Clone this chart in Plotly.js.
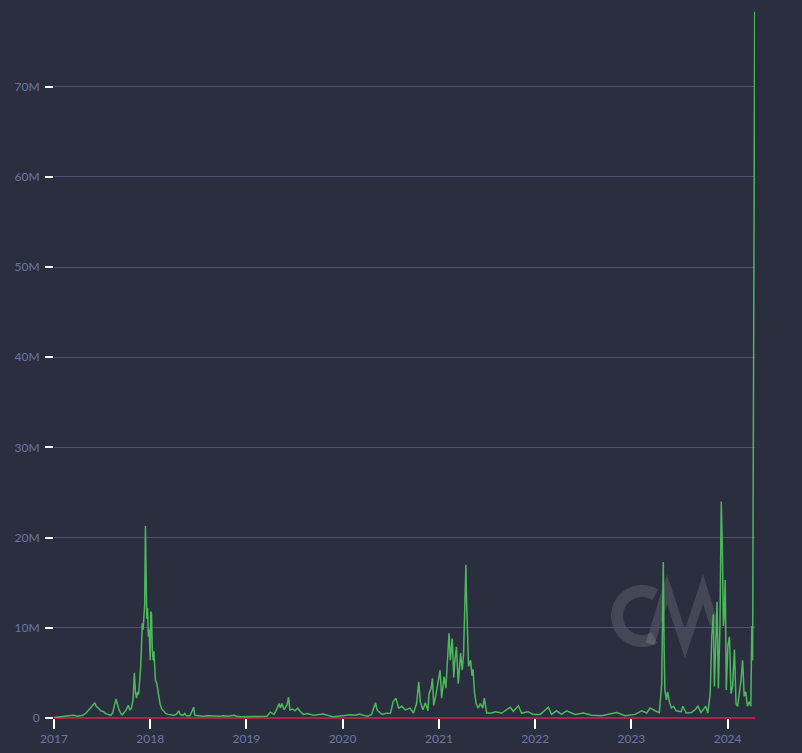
<!DOCTYPE html>
<html>
<head>
<meta charset="utf-8">
<script src="https://cdn.plot.ly/plotly-3.0.1.min.js"></script>
<style>
html,body{margin:0;padding:0;background:#2b2e3f;}
#chart{width:802px;height:753px;}
</style>
</head>
<body>
<div id="chart"></div>
<script>
const dates = [
"2017-01-01","2017-01-20","2017-02-10","2017-03-01","2017-03-15","2017-04-01","2017-04-20","2017-05-01","2017-05-15","2017-05-25",
"2017-06-05","2017-06-10","2017-06-18","2017-06-28","2017-07-08","2017-07-16","2017-07-25","2017-08-05","2017-08-12","2017-08-18",
"2017-08-24","2017-08-30","2017-09-05","2017-09-12","2017-09-17","2017-09-24","2017-10-02","2017-10-10","2017-10-16","2017-10-22",
"2017-10-28","2017-11-02","2017-11-06","2017-11-10","2017-11-14","2017-11-18","2017-11-23","2017-11-26","2017-11-29","2017-12-02",
"2017-12-05","2017-12-08","2017-12-11","2017-12-14","2017-12-16","2017-12-19","2017-12-22","2017-12-25","2017-12-28","2018-01-01",
"2018-01-03","2018-01-06","2018-01-09","2018-01-12","2018-01-15","2018-01-18","2018-01-21","2018-01-26","2018-02-02","2018-02-08",
"2018-02-14","2018-02-22","2018-03-01","2018-03-10","2018-03-20","2018-04-01","2018-04-10","2018-04-20","2018-04-24","2018-05-05",
"2018-05-12","2018-05-18","2018-06-01","2018-06-15","2018-06-19","2018-07-01","2018-07-20","2018-08-10","2018-09-01","2018-09-20",
"2018-10-05","2018-10-25","2018-11-15","2018-11-25","2018-12-10","2019-01-01","2019-01-20","2019-02-10","2019-03-01","2019-03-20",
"2019-04-02","2019-04-10","2019-04-16","2019-04-25","2019-05-05","2019-05-10","2019-05-16","2019-05-24","2019-05-30","2019-06-05",
"2019-06-10","2019-06-15","2019-06-25","2019-07-04","2019-07-15","2019-07-22","2019-08-05","2019-08-20","2019-09-12","2019-10-01",
"2019-10-20","2019-11-05","2019-11-25","2019-12-15","2020-01-15","2020-02-01","2020-02-20","2020-03-04","2020-03-20","2020-04-05",
"2020-04-20","2020-05-05","2020-05-10","2020-05-14","2020-05-30","2020-06-12","2020-07-01","2020-07-11","2020-07-21","2020-08-01",
"2020-08-13","2020-08-26","2020-09-13","2020-09-26","2020-10-08","2020-10-16","2020-10-22","2020-11-01","2020-11-10","2020-11-20",
"2020-11-24","2020-12-02","2020-12-07","2020-12-12","2020-12-20","2021-01-05","2021-01-11","2021-01-20","2021-01-27","2021-02-01",
"2021-02-08","2021-02-13","2021-02-20","2021-02-26","2021-03-01","2021-03-08","2021-03-15","2021-03-24","2021-03-30","2021-04-04",
"2021-04-08","2021-04-13","2021-04-16","2021-04-19","2021-04-23","2021-04-27","2021-05-01","2021-05-06","2021-05-10","2021-05-16",
"2021-05-22","2021-05-29","2021-06-07","2021-06-16","2021-06-22","2021-07-01","2021-07-20","2021-08-02","2021-08-27","2021-09-28",
"2021-10-10","2021-10-29","2021-11-10","2021-12-05","2021-12-24","2022-01-20","2022-02-20","2022-03-04","2022-03-23","2022-04-11",
"2022-04-30","2022-06-01","2022-07-03","2022-08-03","2022-09-10","2022-11-06","2022-12-08","2023-01-15","2023-02-09","2023-02-28",
"2023-03-13","2023-04-01","2023-04-17","2023-04-26","2023-05-02","2023-05-05","2023-05-08","2023-05-14","2023-05-18","2023-05-20",
"2023-05-26","2023-06-02","2023-06-10","2023-06-20","2023-07-09","2023-07-15","2023-07-28","2023-08-16","2023-09-01","2023-09-10",
"2023-09-22","2023-10-10","2023-10-18","2023-10-27","2023-11-02","2023-11-08","2023-11-12","2023-11-18","2023-11-22","2023-11-27",
"2023-12-03","2023-12-08","2023-12-12","2023-12-16","2023-12-20","2023-12-23","2023-12-27","2024-01-02","2024-01-08","2024-01-14",
"2024-01-20","2024-01-27","2024-02-02","2024-02-08","2024-02-21","2024-02-27","2024-03-04","2024-03-10","2024-03-16","2024-03-23",
"2024-03-29","2024-04-02","2024-04-05","2024-04-13"
];
const valuesM = [
0.05,0.1,0.15,0.2,0.3,0.2,0.3,0.5,0.9,1.3,
1.7,1.3,1.1,0.8,0.7,0.5,0.4,0.3,0.6,1.3,
2.1,1.5,0.9,0.5,0.35,0.6,0.9,1.4,0.9,1.1,
2.0,5.0,2.8,2.2,2.9,2.6,4.5,5.7,8.0,10.5,
9.8,11.0,12.5,21.3,13.5,11.0,12.2,9.0,9.8,6.4,
11.8,11.6,7.5,6.4,7.4,5.5,4.2,3.8,2.4,1.5,
1.0,0.7,0.5,0.4,0.35,0.3,0.4,0.8,0.4,0.3,
0.5,0.25,0.25,1.2,0.3,0.25,0.2,0.25,0.2,0.2,
0.25,0.2,0.3,0.2,0.15,0.15,0.12,0.15,0.15,0.2,
0.65,0.5,0.4,0.9,1.6,1.1,1.6,0.9,1.3,1.5,
2.3,0.9,1.0,0.8,1.1,0.8,0.4,0.5,0.3,0.35,
0.45,0.3,0.15,0.2,0.3,0.35,0.3,0.45,0.3,0.2,
0.4,1.7,1.0,0.8,0.4,0.5,0.55,1.8,2.2,1.1,
1.3,0.9,1.1,0.55,1.6,4.0,1.8,0.9,1.7,0.8,
2.7,3.3,4.4,1.4,2.5,5.3,2.2,4.6,3.3,5.7,
9.4,6.4,8.8,4.5,6.0,7.9,3.8,7.2,5.3,7.0,
12.0,17.0,12.5,9.0,5.7,6.1,6.4,4.7,5.4,2.7,
1.6,1.1,1.6,1.1,2.2,0.55,0.55,0.7,0.55,1.2,
0.75,1.35,0.55,0.7,0.4,0.4,1.2,0.4,0.8,0.4,
0.8,0.4,0.55,0.3,0.25,0.6,0.25,0.4,0.8,0.55,
1.1,0.8,0.6,3.8,17.3,8.0,3.1,2.0,2.9,2.7,
1.7,1.1,1.3,0.8,0.7,1.3,0.55,0.6,0.95,1.3,
0.6,1.3,0.55,2.7,9.0,11.5,3.5,7.9,12.9,3.3,
10.2,24.0,19.0,10.2,12.0,15.3,3.1,8.0,9.0,2.7,
3.5,7.6,1.6,1.3,4.2,6.4,2.4,2.9,1.3,1.8,
1.3,10.2,6.4,78.3
];
const yTickVals = [0,10e6,20e6,30e6,40e6,50e6,60e6,70e6];
const yTickText = ["0","10M","20M","30M","40M","50M","60M","70M"];
const xTickVals = ["2017-01-01","2018-01-01","2019-01-01","2020-01-01","2021-01-01","2022-01-01","2023-01-01","2024-01-01"];
const xTickText = ["2017","2018","2019","2020","2021","2022","2023","2024"];

const values = valuesM.map(v => v * 1e6);

// watermark geometry (pixel positions converted to paper coordinates)
const PL = 54, PW = 701, PB = 718, PH = 708;
const px = x => ((x - PL) / PW).toFixed(4);
const py = y => ((PB - y) / PH).toFixed(4);
function arcPath(cx, cy, r, a0, a1, n) {
  let s = '';
  for (let i = 0; i <= n; i++) {
    const a = (a0 + (a1 - a0) * i / n) * Math.PI / 180;
    const x = cx + r * Math.cos(a), y = cy + r * Math.sin(a);
    s += (i === 0 ? 'M' : 'L') + px(x) + ',' + py(y) + ' ';
  }
  return s;
}
const cPath = arcPath(642, 616, 25, -58, -300, 40);
const mPts = [[650, 644], [667, 589], [685, 644], [703, 589], [714, 624]];
const mPath = mPts.map((p, i) => (i === 0 ? 'M' : 'L') + px(p[0]) + ',' + py(p[1])).join(' ');
const wmColor = 'rgba(255,255,255,0.12)';

const trace = {
  x: dates, y: values, type: 'scatter', mode: 'lines',
  line: {color: '#4cb85c', width: 1.5},
  hoverinfo: 'x+y'
};

const layout = {
  width: 802, height: 753,
  paper_bgcolor: '#2b2e3f', plot_bgcolor: '#2b2e3f',
  margin: {l: 54, r: 47, t: 10, b: 35},
  showlegend: false,
  font: {family: 'Lato, "Open Sans", sans-serif', color: '#6b77a6', size: 12},
  xaxis: {
    type: 'date',
    range: ['2017-01-01', '2024-04-14'],
    tickvals: xTickVals, ticktext: xTickText,
    ticks: 'outside', ticklen: 10, tickwidth: 2, tickcolor: '#ffffff',
    showgrid: false, zeroline: false, showline: false,
    tickfont: {color: '#6b77a6', size: 12}
  },
  yaxis: {
    range: [0, 78.5e6],
    tickvals: yTickVals, ticktext: yTickText,
    ticks: 'outside', ticklen: 8, tickwidth: 2, tickcolor: '#ffffff',
    ticklabelstandoff: 3,
    showgrid: true, gridcolor: '#4d5274', gridwidth: 1,
    zeroline: true, zerolinecolor: '#b3204d', zerolinewidth: 1.5,
    showline: false,
    tickfont: {color: '#6b77a6', size: 12}
  },
  shapes: [
    {type: 'path', xref: 'paper', yref: 'paper', path: cPath, layer: 'below',
     line: {color: wmColor, width: 12}},
    {type: 'path', xref: 'paper', yref: 'paper', path: mPath, layer: 'below',
     line: {color: wmColor, width: 9}}
  ]
};

Plotly.newPlot('chart', [trace], layout, {displayModeBar: false, staticPlot: true});
</script>
</body>
</html>
